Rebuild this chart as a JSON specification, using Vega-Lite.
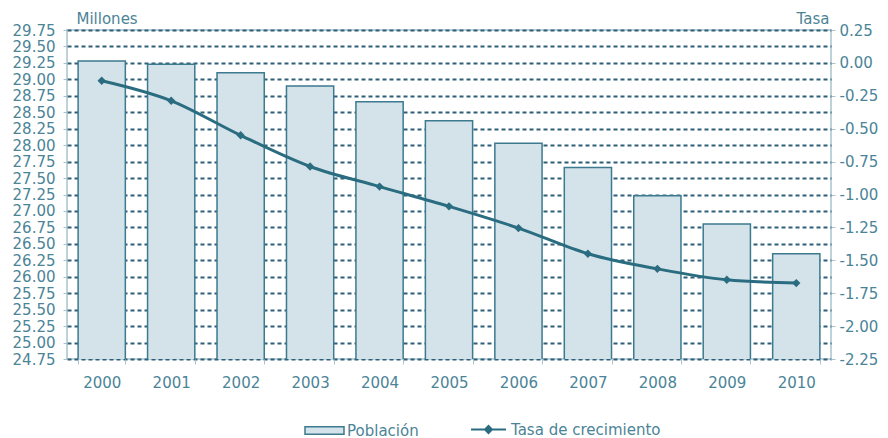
{
  "$schema": "https://vega.github.io/schema/vega-lite/v6.json",
  "width": 764,
  "height": 329,
  "autosize": {"type": "none"},
  "padding": {"left": 67, "top": 30, "right": 57, "bottom": 79},
  "background": "white",
  "config": {
    "font": "DejaVu Sans",
    "view": {"stroke": "#a9c3cd", "strokeWidth": 1.5},
    "axis": {
      "labelFont": "DejaVu Sans",
      "labelFontSize": 15,
      "labelColor": "#4b8497",
      "titleFont": "DejaVu Sans",
      "titleFontSize": 15,
      "titleFontWeight": "normal",
      "titleColor": "#4b8497",
      "domainColor": "#a9c3cd",
      "tickColor": "#a9c3cd"
    },
    "legend": {
      "labelFont": "DejaVu Sans",
      "labelFontSize": 15,
      "labelColor": "#4b8497"
    }
  },
  "data": {
    "values": [
      {"year": "2000", "poblacion": 29.28, "tasa": -0.136},
      {"year": "2001", "poblacion": 29.23, "tasa": -0.288},
      {"year": "2002", "poblacion": 29.10, "tasa": -0.55},
      {"year": "2003", "poblacion": 28.90, "tasa": -0.787},
      {"year": "2004", "poblacion": 28.66, "tasa": -0.94},
      {"year": "2005", "poblacion": 28.37, "tasa": -1.09},
      {"year": "2006", "poblacion": 28.03, "tasa": -1.255},
      {"year": "2007", "poblacion": 27.66, "tasa": -1.45},
      {"year": "2008", "poblacion": 27.23, "tasa": -1.565},
      {"year": "2009", "poblacion": 26.80, "tasa": -1.648},
      {"year": "2010", "poblacion": 26.35, "tasa": -1.673}
    ]
  },
  "encoding": {
    "x": {
      "field": "year",
      "type": "ordinal",
      "scale": {"paddingInner": 0.32, "paddingOuter": 0.16},
      "axis": {
        "title": null,
        "labelAngle": 0,
        "labelBaseline": "top",
        "tickSize": 5,
        "labelPadding": 11,
        "tickBand": "extent",
        "domain": false,
        "grid": false
      }
    }
  },
  "layer": [
    {
      "mark": {"type": "bar", "stroke": "#3c7a8f", "strokeWidth": 1.5, "clip": true},
      "encoding": {
        "y": {
          "field": "poblacion",
          "type": "quantitative",
          "scale": {"domain": [24.75, 29.75], "zero": false, "nice": false},
          "axis": {
            "title": "Millones",
            "titleAngle": 0,
            "titleAlign": "left",
            "titleBaseline": "alphabetic",
            "titleX": 9,
            "titleY": -7,
            "values": [24.75, 25, 25.25, 25.5, 25.75, 26, 26.25, 26.5, 26.75, 27, 27.25, 27.5, 27.75, 28, 28.25, 28.5, 28.75, 29, 29.25, 29.5, 29.75],
            "format": ".2f",
            "labelFlush": false,
            "labelOverlap": false,
            "grid": true,
            "gridColor": "#2e5f78",
            "gridWidth": 2,
            "gridDash": [4, 3],
            "tickSize": 4,
            "labelPadding": 8,
            "domain": false
          }
        },
        "fill": {
          "datum": "Población",
          "type": "nominal",
          "scale": {"range": ["#d4e3ea"]},
          "legend": {
            "title": null,
            "orient": "none",
            "legendX": 237,
            "legendY": 380,
            "symbolType": "M-1,-0.19H1V0.19H-1Z",
            "symbolSize": 1521,
            "symbolStrokeColor": "#3c7a8f",
            "symbolStrokeWidth": 1.5,
            "labelOffset": 2
          }
        }
      }
    },
    {
      "mark": {"type": "line", "strokeWidth": 3, "interpolate": "monotone"},
      "encoding": {
        "y": {
          "field": "tasa",
          "type": "quantitative",
          "scale": {"domain": [-2.25, 0.25], "zero": false, "nice": false},
          "axis": {
            "orient": "right",
            "title": "Tasa",
            "titleAngle": 0,
            "titleAlign": "right",
            "titleBaseline": "alphabetic",
            "titleX": -2,
            "titleY": -7,
            "values": [-2.25, -2, -1.75, -1.5, -1.25, -1, -0.75, -0.5, -0.25, 0, 0.25],
            "labelExpr": "replace(format(datum.value, '.2f'), '\u2212', '-')",
            "labelFlush": false,
            "labelOverlap": false,
            "grid": false,
            "tickSize": 4,
            "labelPadding": 4,
            "domain": false
          }
        },
        "stroke": {
          "datum": "Tasa de crecimiento",
          "type": "nominal",
          "scale": {"range": ["#2a6c80"]},
          "legend": {
            "title": null,
            "orient": "none",
            "legendX": 403,
            "legendY": 381,
            "symbolType": "M-1,0H1M0,-0.2L0.2,0L0,0.2L-0.2,0Z",
            "symbolSize": 1225,
            "symbolFillColor": "#2a6c80",
            "symbolStrokeWidth": 2,
            "labelOffset": 4
          }
        }
      }
    },
    {
      "mark": {"type": "point", "shape": "diamond", "filled": true, "size": 70, "color": "#2a6c80", "opacity": 1},
      "encoding": {
        "y": {"field": "tasa", "type": "quantitative", "scale": {"domain": [-2.25, 0.25], "zero": false, "nice": false}, "axis": null}
      }
    }
  ],
  "resolve": {"scale": {"y": "independent"}}
}
